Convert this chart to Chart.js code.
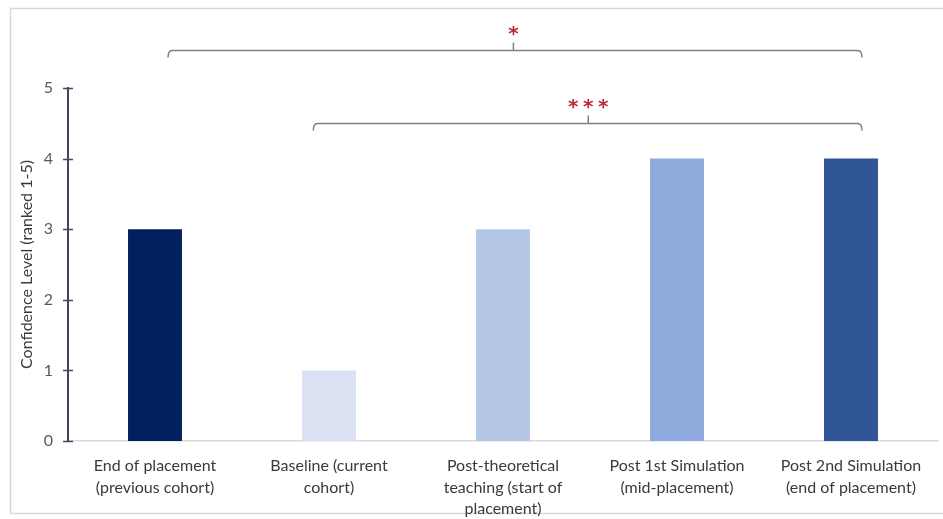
<!DOCTYPE html>
<html>
<head>
<meta charset="utf-8">
<script src="https://cdn.jsdelivr.net/npm/chart.js@4.4.1/dist/chart.umd.min.js"></script>
<style>
  html, body { margin: 0; padding: 0; background: #ffffff; }
  #wrap { position: relative; width: 943px; height: 519px; }
  canvas { display: block; }
</style>
</head>
<body>
<div id="wrap"><canvas id="c" width="943" height="519"></canvas></div>
<script>
// ---- data ----
const categories = [
  ["End of placement", "(previous cohort)"],
  ["Baseline (current", "cohort)"],
  ["Post-theoretical", "teaching (start of", "placement)"],
  ["Post 1st Simulation", "(mid-placement)"],
  ["Post 2nd Simulation", "(end of placement)"]
];
const confidenceValues = [3, 1, 3, 4, 4];
const barColors = ["#002060", "#d9e1f2", "#b4c7e7", "#8faadc", "#2f5597"];
const yTickValues = [0, 1, 2, 3, 4, 5];
const yAxisTitle = "Confidence Level (ranked 1-5)";
// significance comparisons
const comparisonFrom = [0, 1];
const comparisonTo = [4, 4];
const comparisonStars = [1, 3];
const comparisonLevels = [5.54, 4.5];

const FONT = "Lato, 'Open Sans', sans-serif";

const framePlugin = {
  id: 'frame',
  beforeDraw(chart) {
    const ctx = chart.ctx;
    ctx.save();
    ctx.fillStyle = '#ffffff';
    ctx.fillRect(0, 0, chart.width, chart.height);
    ctx.strokeStyle = '#d9d9d9';
    ctx.lineWidth = 1.5;
    ctx.strokeRect(10.5, 8.5, chart.width - 4, chart.height - 14);
    ctx.restore();
  }
};

const crossTicksPlugin = {
  id: 'crossTicks',
  afterDraw(chart) {
    const ctx = chart.ctx;
    const ys = chart.scales.y;
    const x0 = chart.chartArea.left;
    ctx.save();
    ctx.strokeStyle = '#3f4858';
    ctx.lineWidth = 1.5;
    ys.ticks.forEach(t => {
      const py = Math.round(ys.getPixelForValue(t.value)) + 0.5;
      ctx.beginPath();
      ctx.moveTo(x0 - 5, py);
      ctx.lineTo(x0 + 5, py);
      ctx.stroke();
    });
    ctx.restore();
  }
};

const bracketPlugin = {
  id: 'brackets',
  afterDraw(chart) {
    const ctx = chart.ctx;
    const xs = chart.scales.x;
    const ys = chart.scales.y;
    const startOffsets = [0.075, -0.09];
    const endOffset = 0.063;
    const midOffsets = [0.06, -0.01];
    ctx.save();
    comparisonFrom.forEach((from, i) => {
      const to = comparisonTo[i];
      const x1 = xs.getPixelForValue(from + startOffsets[i]);
      const x2 = xs.getPixelForValue(to + endOffset);
      const xm = xs.getPixelForValue((from + to) / 2 + midOffsets[i]);
      const y = Math.round(ys.getPixelForValue(comparisonLevels[i])) + 0.5;
      ctx.strokeStyle = '#808080';
      ctx.lineWidth = 1.5;
      ctx.beginPath();
      ctx.moveTo(x1, y + 7);
      ctx.quadraticCurveTo(x1, y, x1 + 4, y);
      ctx.lineTo(x2 - 4, y);
      ctx.quadraticCurveTo(x2, y, x2, y + 7);
      ctx.stroke();
      ctx.beginPath();
      ctx.moveTo(xm, y);
      ctx.lineTo(xm, y - 8);
      ctx.stroke();
      ctx.fillStyle = '#c0283c';
      ctx.font = "bold 20px 'DejaVu Sans', sans-serif";
      ctx.textAlign = 'center';
      ctx.textBaseline = 'middle';
      const n = comparisonStars[i];
      for (let k = 0; k < n; k++) {
        const sx = xm + (k - (n - 1) / 2) * 15;
        ctx.fillText('*', sx, y - 16);
      }
    });
    ctx.restore();
  }
};

new Chart(document.getElementById('c'), {
  type: 'bar',
  data: {
    labels: categories,
    datasets: [{
      data: confidenceValues,
      backgroundColor: barColors,
      borderWidth: 0,
      categoryPercentage: 1.0,
      barPercentage: 0.31
    }]
  },
  options: {
    responsive: false,
    animation: false,
    events: [],
    layout: { padding: { top: 88, right: 5, left: 0, bottom: 0 } },
    plugins: { legend: { display: false }, tooltip: { enabled: false } },
    scales: {
      x: {
        grid: { display: false, drawTicks: false },
        border: { display: true, color: '#d9d9d9', width: 1.5 },
        ticks: {
          color: '#3a3a3a',
          font: { family: FONT, size: 16, lineHeight: 1.35 },
          padding: 14,
          maxRotation: 0,
          autoSkip: false
        },
        afterFit(scale) { scale.height = 78; }
      },
      y: {
        min: 0,
        max: 5,
        afterBuildTicks(scale) { scale.ticks = yTickValues.map(v => ({ value: v })); },
        grid: { display: false, drawTicks: false },
        border: { display: true, color: '#3f4858', width: 2 },
        ticks: {
          color: '#595959',
          font: { family: FONT, size: 16 },
          padding: 15
        },
        title: {
          display: true,
          text: yAxisTitle,
          color: '#3a3a3a',
          font: { family: FONT, size: 16 },
          padding: { top: 17, bottom: 0 }
        },
        afterFit(scale) { scale.width = 68; }
      }
    }
  },
  plugins: [framePlugin, crossTicksPlugin, bracketPlugin]
});
</script>
</body>
</html>
